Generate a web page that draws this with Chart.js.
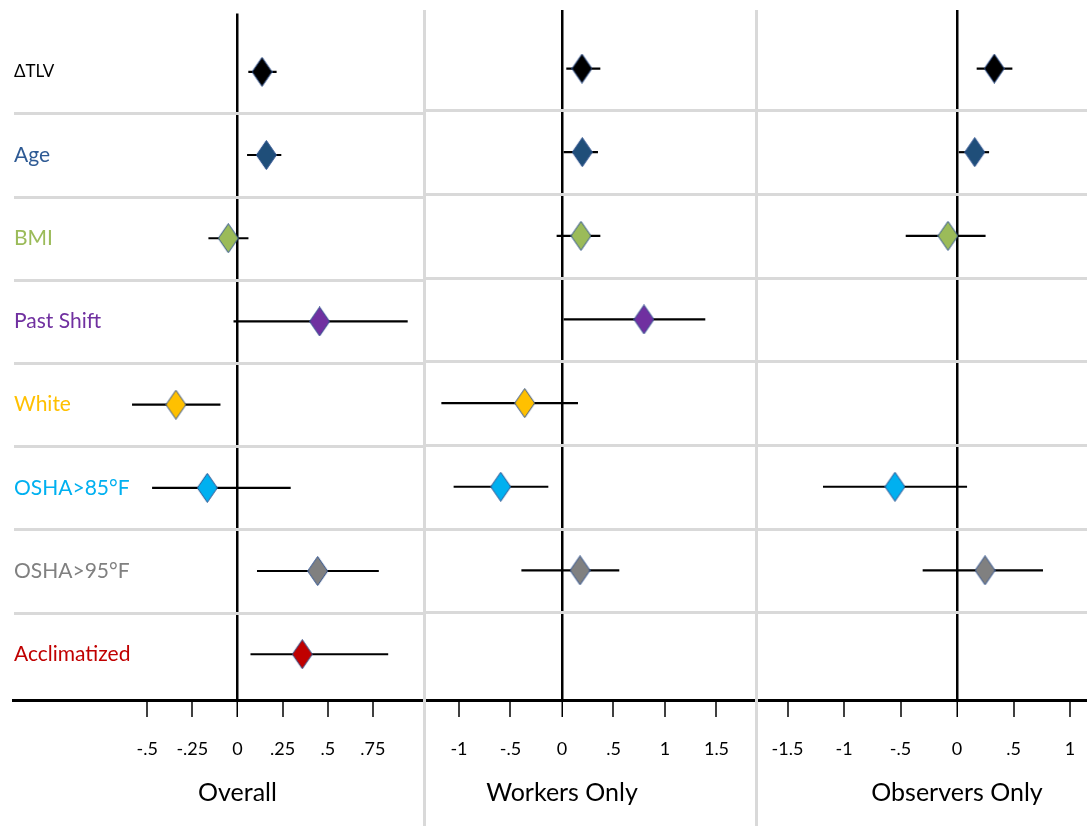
<!DOCTYPE html>
<html>
<head>
<meta charset="utf-8">
<script src="https://cdn.jsdelivr.net/npm/chart.js@4"></script>
<style>
  html, body { margin: 0; padding: 0; background: #fff; }
  #wrap { position: relative; width: 1087px; height: 826px; overflow: hidden; }
  #wrap canvas { position: absolute; top: 0; }
  .divider { position: absolute; top: 10px; bottom: 0; width: 3px; background: #d9d9d9; }
</style>
</head>
<body>
<div id="wrap">
  <canvas id="overall" width="424" height="826" style="left:0px"></canvas>
  <canvas id="workers" width="332" height="826" style="left:424px"></canvas>
  <canvas id="observers" width="331" height="826" style="left:756px"></canvas>
  <div class="divider" style="left:423px"></div>
  <div class="divider" style="left:755px"></div>
</div>
<script>
// Predictors, top to bottom
const categories = ['ΔTLV', 'Age', 'BMI', 'Past Shift', 'White', 'OSHA>85°F', 'OSHA>95°F', 'Acclimatized'];

// Overall model: estimate and 95% CI
const overallEst  = [0.136, 0.160, -0.051, 0.455, -0.341, -0.167, 0.444, 0.359];
const overallLow  = [0.062, 0.055, -0.159, -0.020, -0.582, -0.471, 0.110, 0.074];
const overallHigh = [0.215, 0.241, 0.059, 0.941, -0.096, 0.293, 0.781, 0.833];

// Workers only
const workersEst  = [0.194, 0.197, 0.184, 0.796, -0.362, -0.595, 0.175, null];
const workersLow  = [0.045, 0.019, -0.049, 0.019, -1.168, -1.049, -0.391, null];
const workersHigh = [0.369, 0.346, 0.369, 1.388, 0.152, -0.136, 0.553, null];

// Observers only
const observersEst  = [0.330, 0.157, -0.080, null, null, -0.549, 0.248, null];
const observersLow  = [0.177, 0.018, -0.451, null, null, -1.183, -0.301, null];
const observersHigh = [0.487, 0.281, 0.250, null, null, 0.086, 0.758, null];

// Axis ticks per panel
const overallTicks   = [-0.5, -0.25, 0, 0.25, 0.5, 0.75];
const workersTicks   = [-1, -0.5, 0, 0.5, 1, 1.5];
const observersTicks = [-1.5, -1, -0.5, 0, 0.5, 1];

const panelTitles = ['Overall', 'Workers Only', 'Observers Only'];

// Styling
const FONT = 'Lato';
const labelColors  = ['#000000', '#2e5a94', '#9bbb59', '#7030a0', '#ffc000', '#00b0f0', '#808080', '#c00000'];
const markerColors = ['#000000', '#1f4e79', '#9bbb59', '#7030a0', '#ffc000', '#00b0f0', '#808080', '#c00000'];

function diamond(fill) {
  const c = document.createElement('canvas');
  c.width = 21; c.height = 30;
  const g = c.getContext('2d');
  g.beginPath();
  g.moveTo(10.5, 0.5);
  g.lineTo(20.5, 15);
  g.lineTo(10.5, 29.5);
  g.lineTo(0.5, 15);
  g.closePath();
  g.fillStyle = fill;
  g.fill();
  g.strokeStyle = '#2f528f';
  g.lineWidth = 1;
  g.stroke();
  return c;
}
const markerImages = markerColors.map(diamond);

const formatTick = v => (v === 0 ? '0' : String(v).replace(/^(-?)0\./, '$1.'));
const tickValue = c => (c && c.tick ? c.tick.value : null);

// Light grey separators between predictor rows
const rowLines = {
  id: 'rowLines',
  beforeDatasetsDraw(chart) {
    const { ctx, chartArea, scales: { y } } = chart;
    ctx.save();
    ctx.strokeStyle = '#d9d9d9';
    ctx.lineWidth = 3;
    for (let i = 0; i < categories.length - 1; i++) {
      const py = Math.round(y.getPixelForValue(i + 0.5)) + 0.5;
      ctx.beginPath();
      ctx.moveTo(chartArea.left + 1, py);
      ctx.lineTo(chartArea.right, py);
      ctx.stroke();
    }
    ctx.restore();
  }
};

// Panel title centred under the zero line
const panelTitle = {
  id: 'panelTitle',
  afterDraw(chart, args, opts) {
    const { ctx, scales: { x } } = chart;
    ctx.save();
    ctx.font = '25px ' + FONT;
    ctx.fillStyle = '#000';
    ctx.textAlign = 'center';
    ctx.textBaseline = 'middle';
    ctx.fillText(opts.text, x.getPixelForValue(0), x.bottom - 33);
    ctx.restore();
  }
};

function makePanel(id, est, low, high, ticks, title, xMin, xMax, withLabels) {
  const points = [], bars = [], styles = [];
  categories.forEach((c, i) => {
    if (est[i] === null) return;
    points.push({ x: est[i], y: i });
    styles.push(markerImages[i]);
    bars.push({ x: [low[i], high[i]], y: i });
  });

  return new Chart(document.getElementById(id), {
    type: 'scatter',
    data: {
      datasets: [
        { type: 'scatter', data: points, pointStyle: styles, pointRadius: 12, pointHitRadius: 0, order: 0 },
        { type: 'bar', indexAxis: 'y', data: bars, backgroundColor: '#000', borderWidth: 0,
          barThickness: 1.5, order: 1 }
      ]
    },
    options: {
      responsive: false,
      animation: false,
      devicePixelRatio: 1,
      layout: { padding: { left: withLabels ? 11 : 0, top: 10, right: 0, bottom: 0 }, autoPadding: false },
      plugins: {
        legend: { display: false },
        tooltip: { enabled: false },
        panelTitle: { text: title }
      },
      scales: {
        x: {
          type: 'linear',
          min: xMin,
          max: xMax,
          offset: false,
          afterBuildTicks: s => { s.ticks = ticks.map(v => ({ value: v })); },
          afterFit: s => { s.height = 126; s.paddingLeft = 0; s.paddingRight = 0; },
          ticks: {
            autoSkip: false, maxRotation: 0, padding: 21, color: '#000',
            font: { family: FONT, size: 18 },
            callback: v => formatTick(v)
          },
          grid: {
            offset: false,
            drawOnChartArea: true,
            color: c => (tickValue(c) === 0 ? '#000' : 'rgba(0,0,0,0)'),
            lineWidth: c => (tickValue(c) === 0 ? 2.5 : 0),
            tickLength: 17,
            tickColor: '#000',
            tickWidth: 1.5
          },
          border: { display: true, color: '#000', width: 3 }
        },
        y: {
          type: 'linear',
          reverse: true,
          offset: false,
          min: -0.7,
          max: 7.55,
          display: withLabels,
          afterBuildTicks: s => { s.ticks = categories.map((_, i) => ({ value: i })); },
          grid: { display: false, drawTicks: false, offset: false },
          border: { display: false },
          ticks: {
            mirror: true,
            padding: 1,
            autoSkip: false,
            callback: v => categories[v],
            color: c => (tickValue(c) === null ? '#000' : labelColors[tickValue(c)]),
            font: c => ({ family: FONT, size: tickValue(c) === 0 ? 17 : 21 })
          }
        }
      }
    },
    plugins: [rowLines, panelTitle]
  });
}

makePanel('overall', overallEst, overallLow, overallHigh, overallTicks, panelTitles[0], -1.2431, 1.0331, true);
makePanel('workers', workersEst, workersLow, workersHigh, workersTicks, panelTitles[1], -1.3398, 1.8835, false);
makePanel('observers', observersEst, observersLow, observersHigh, observersTicks, panelTitles[2], -1.7788, 1.1504, false);
</script>
</body>
</html>
